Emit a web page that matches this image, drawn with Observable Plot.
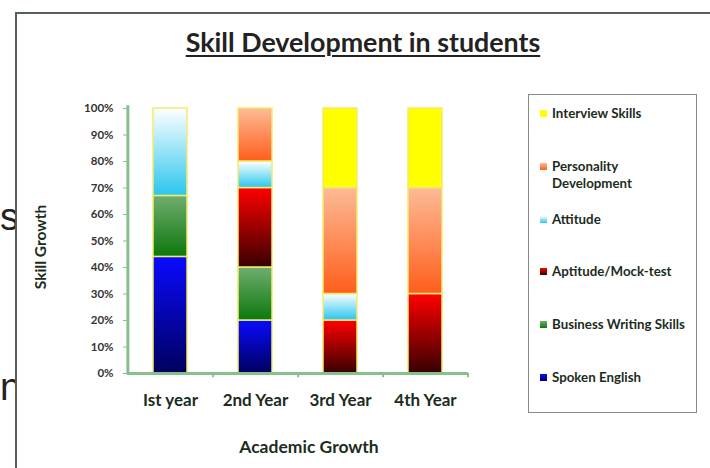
<!DOCTYPE html>
<html><head><meta charset="utf-8">
<script src="https://cdn.jsdelivr.net/npm/d3@7"></script>
<script src="https://cdn.jsdelivr.net/npm/@observablehq/plot@0.6"></script>
<style>
html,body{margin:0;padding:0;background:#fff;}
body{width:710px;height:468px;overflow:hidden;position:relative;font-family:Lato,"Open Sans",sans-serif;}
.bgtxt{position:absolute;font-family:"Liberation Sans",Arial,sans-serif;font-size:38px;color:#222;line-height:1;}
#frame{position:absolute;left:15px;top:12px;width:800px;height:600px;border-left:2px solid #56605a;border-top:2px solid #56605a;background:#fff;}
#title{position:absolute;left:0;width:726px;top:28px;text-align:center;font-weight:bold;font-size:26.8px;line-height:1.1;color:#222;text-decoration:underline;text-decoration-thickness:2px;text-underline-offset:3px;}
#chart{position:absolute;left:0;top:0;}
#legend{position:absolute;left:528px;top:94px;width:167px;height:317px;border:1.5px solid #8a8a8a;background:#fff;box-sizing:content-box;}
.item{position:absolute;left:12px;font-weight:bold;font-size:13.3px;line-height:17px;color:#1c2c1c;white-space:nowrap;}
.sw{position:absolute;left:-1px;top:5px;width:7px;height:7px;}
.lab{margin-left:11px;display:block;}
</style>
</head><body>
<div class="bgtxt" style="left:0px;top:198px;">s</div>
<div class="bgtxt" style="left:0px;top:368px;">n</div>
<div id="frame"></div>
<div id="title">Skill Development in students</div>
<div id="chart"></div>
<div id="legend"></div>
<script>
// Categories and series
const years = ["Ist year", "2nd Year", "3rd Year", "4th Year"];
const series = ["Spoken English", "Business Writing Skills", "Aptitude/Mock-test", "Attitude", "Personality Development", "Interview Skills"];
// Values (% of each year's bar), per series, aligned with years
const spokenEnglish   = [44, 20, 0, 0];
const businessWriting = [23, 20, 0, 0];
const aptitudeMock    = [0, 30, 20, 30];
const attitude        = [33, 10, 10, 0];
const personality     = [0, 20, 40, 40];
const interview       = [0, 0, 30, 30];
const seriesValues = [spokenEnglish, businessWriting, aptitudeMock, attitude, personality, interview];
// Gradient colours (top, bottom) per series
const gradTop    = ["#0a0aff", "#70ad70", "#ff0000", "#ffffff", "#fdbb96", "#ffff00"];
const gradBottom = ["#00005e", "#0c780c", "#380000", "#2ac6ee", "#ff5e1c", "#ffff00"];
const yTicks = [0, 10, 20, 30, 40, 50, 60, 70, 80, 90, 100];
// Legend order (top to bottom)
const legendOrder = ["Interview Skills", "Personality Development", "Attitude", "Aptitude/Mock-test", "Business Writing Skills", "Spoken English"];
const legendLabels = {"Personality Development": "Personality<br>Development"};

const rows = [];
series.forEach((s, i) => years.forEach((y, j) => {
  if (seriesValues[i][j] > 0) rows.push({year: y, series: s, value: seriesValues[i][j], idx: i});
}));

const W = 500, ML = 127, MR = 32;
const step = (W - ML - MR) / years.length;
const green = "#86c08c";

const plot = Plot.plot({
  width: W, height: 468,
  marginLeft: ML, marginRight: MR, marginTop: 108, marginBottom: 95,
  style: {background: "transparent", fontFamily: "Lato, 'Open Sans', sans-serif", overflow: "visible"},
  x: {domain: years, paddingInner: 0.6, paddingOuter: 0.3},
  y: {domain: [0, 100]},
  color: {type: "identity"},
  marks: [
    Plot.barY(rows, {x: "year", y: "value", z: "series", order: series,
      fill: d => `url(#grad${d.idx})`, stroke: "#f2ec6e", strokeWidth: 1.5}),
    Plot.ruleY([0], {stroke: green, strokeWidth: 3}),
    Plot.ruleX([years[0]], {dx: -step / 2, y1: 0, y2: 101, stroke: green, strokeWidth: 3}),
    Plot.ruleX(years, {dx: step / 2, y1: 0, y2: -1.6, stroke: green, strokeWidth: 2}),
    Plot.axisY({ticks: yTicks, tickFormat: d => d + "%", tickSize: 4, tickPadding: 10,
      stroke: green, fill: "#333", fontSize: 11.5, fontWeight: "bold", label: null}),
    Plot.axisX({tickSize: 0, tickPadding: 20, fontSize: 17, fontWeight: "bold", fill: "#1c2c1c", label: null}),
    Plot.text(["Skill Growth"], {text: d => d, frameAnchor: "left", textAnchor: "middle", rotate: -90, dx: -86, dy: 6,
      fontSize: 15.5, fontWeight: "bold", fill: "#1c2c1c"}),
    Plot.text(["Academic Growth"], {text: d => d, frameAnchor: "bottom", textAnchor: "middle", dx: 11, dy: 79,
      fontSize: 17.5, fontWeight: "bold", fill: "#1c2c1c"})
  ]
});

const defs = d3.select(plot).insert("defs", ":first-child");
series.forEach((s, i) => {
  const g = defs.append("linearGradient").attr("id", "grad" + i)
    .attr("x1", 0).attr("y1", 0).attr("x2", 0).attr("y2", 1);
  g.append("stop").attr("offset", "0%").attr("stop-color", gradTop[i]);
  g.append("stop").attr("offset", "100%").attr("stop-color", gradBottom[i]);
});
document.getElementById("chart").appendChild(plot);

const legend = document.getElementById("legend");
legendOrder.forEach((s, k) => {
  const i = series.indexOf(s);
  const div = document.createElement("div");
  div.className = "item";
  div.style.top = (10 + k * 52.8) + "px";
  div.innerHTML = `<span class="sw" style="background:linear-gradient(${gradTop[i]},${gradBottom[i]})"></span><span class="lab">${legendLabels[s] || s}</span>`;
  legend.appendChild(div);
});
</script>
</body></html>
